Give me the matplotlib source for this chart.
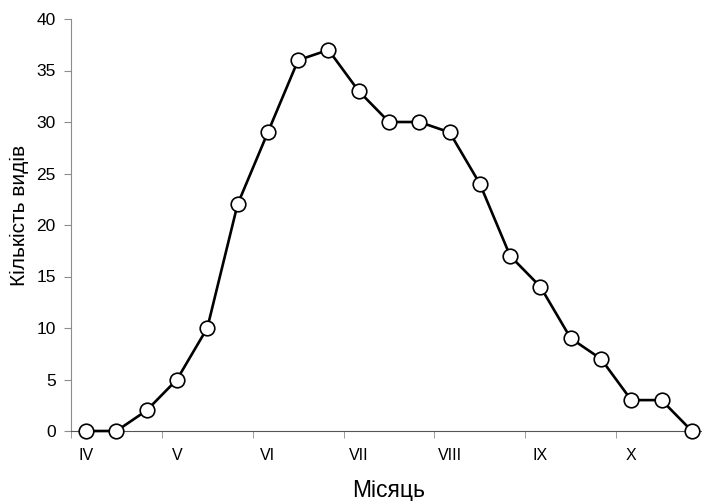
import matplotlib.pyplot as plt
import numpy as np

plt.rcParams['font.family'] = ['Liberation Sans', 'DejaVu Sans']

# Number of species per ten-day period, April - October
counts = [0, 0, 2, 5, 10, 22, 29, 36, 37, 33, 30, 30, 29, 24, 17, 14, 9, 7, 3, 3, 0]
months = ['IV', 'V', 'VI', 'VII', 'VIII', 'IX', 'X']

x = np.arange(len(counts))

fig = plt.figure(figsize=(7.02, 5.01), dpi=100)
ax = fig.add_axes([71/702, 70/501, 636/702, 412/501])

ax.plot(x, counts, color='black', lw=1.9, marker='o', ms=10.5,
        mfc='white', mec='black', mew=1.2, clip_on=False, zorder=3)

ax.set_xlim(-0.5, 20.5)
ax.set_ylim(0, 40)
ax.set_yticks(range(0, 41, 5))
ax.set_xticks(np.arange(len(months)) * 3)
ax.set_xticklabels(months)
ax.set_xticks(np.arange(len(months)) * 3 - 0.5, minor=True)

for s in ['top', 'right']:
    ax.spines[s].set_visible(False)
ax.spines['left'].set_color('#8c8c8c')
ax.spines['bottom'].set_color('#555555')
ax.tick_params(axis='y', direction='out', length=5, color='#8c8c8c', labelsize=12.5, pad=6)
ax.tick_params(axis='x', which='major', length=0, labelsize=11.5, pad=12)
ax.tick_params(axis='x', which='minor', direction='out', length=5, color='#8c8c8c')

ax.set_ylabel('Кількість видів', fontsize=15)
ax.yaxis.set_label_coords(-0.066, 0.524)
ax.set_xlabel('Місяць', fontsize=16.5, labelpad=12)

fig.savefig('out.png', dpi=100)
